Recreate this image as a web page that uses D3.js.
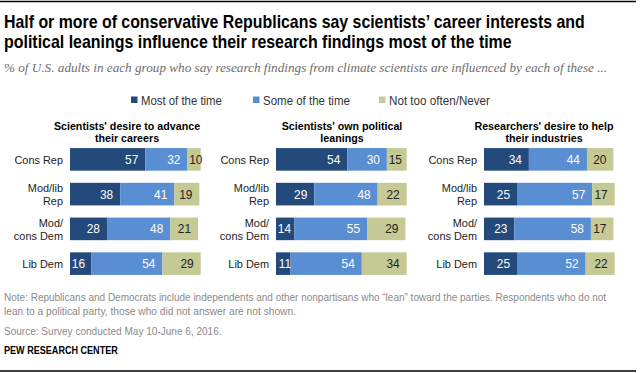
<!DOCTYPE html>
<html>
<head>
<meta charset="utf-8">
<script src="https://cdn.jsdelivr.net/npm/d3@7"></script>
<style>
  body { margin: 0; background: #fff; }
  svg { display: block; }
  text { font-family: "Liberation Sans", Arial, sans-serif; }
</style>
</head>
<body>
<svg id="chart"></svg>
<script>
// chart data
const groupLines = [["Cons Rep"], ["Mod/lib", "Rep"], ["Mod/", "cons Dem"], ["Lib Dem"]];
const groups = ["Cons Rep", "Mod/lib Rep", "Mod/cons Dem", "Lib Dem"];
const panelTitles = [
  ["Scientists' desire to advance", "their careers"],
  ["Scientists' own political", "leanings"],
  ["Researchers' desire to help", "their industries"]
];
const seriesNames = ["Most of the time", "Some of the time", "Not too often/Never"];
const mostOfTime = [[57, 38, 28, 16], [54, 29, 14, 11], [34, 25, 23, 25]];
const someOfTime = [[32, 41, 48, 54], [30, 48, 55, 54], [44, 57, 58, 52]];
const notOften = [[10, 19, 21, 29], [15, 22, 29, 34], [20, 17, 17, 22]];

const colors = ["#234a7b", "#5a8ed3", "#c5c993"];
const textColors = ["#fff", "#fff", "#222"];

const W = 640, H = 373;
const svg = d3.select("#chart").attr("width", W).attr("height", H);

// no condensed font installed: squeeze text horizontally around its anchor
function squeezeText(el, k) {
  const t = d3.select(el);
  const tx = +t.attr("x") || 0, ty = +t.attr("y") || 0;
  t.attr("x", 0).attr("y", 0)
    .attr("transform", `translate(${tx},${ty}) scale(${k},1)`);
}
function squeeze(sel, k) {
  sel.each(function() { squeezeText(this, k); });
}
function fitTo(sel, widths) {
  sel.each(function(d, i) { squeezeText(this, widths[i] / this.getComputedTextLength()); });
}

// top and bottom rules
svg.append("line").attr("x1", 0).attr("x2", 636).attr("y1", 1.5).attr("y2", 1.5)
  .attr("stroke", "#000").attr("stroke-width", 1.5);
svg.append("line").attr("x1", 0).attr("x2", 636).attr("y1", 371).attr("y2", 371)
  .attr("stroke", "#000").attr("stroke-width", 1.5);

// title
const title = ["Half or more of conservative Republicans say scientists\u2019 career interests and",
  "political leanings influence their research findings most of the time"];
svg.selectAll(".title").data(title).enter().append("text")
  .attr("x", 4).attr("y", (d, i) => 28 + i * 20)
  .attr("font-size", 17.5).attr("font-weight", "bold").attr("fill", "#000")
  .text(d => d)
  .call(fitTo, [581, 508]);

svg.append("text").attr("x", 4).attr("y", 72)
  .style("font-family", "'Liberation Serif', Georgia, serif")
  .attr("font-style", "italic").attr("font-size", 13).attr("fill", "#6e6e6e")
  .text("% of U.S. adults in each group who say research findings from climate scientists are influenced by each of these ...")
  .call(fitTo, [604]);

// legend
const legendX = [131, 253, 379];
const legend = svg.selectAll(".legend").data(seriesNames).enter().append("g")
  .attr("transform", (d, i) => `translate(${legendX[i]},100)`);
legend.append("rect").attr("x", 0).attr("y", -3.5).attr("width", 6.5).attr("height", 6.5)
  .attr("fill", (d, i) => colors[i]);
legend.append("text").attr("x", 10).attr("y", 4.5)
  .attr("font-size", 12.5).attr("fill", "#333").text(d => d)
  .each(function(d, i) { squeezeText(this, [81, 87, 101][i] / this.getComputedTextLength()); });

// scales
const y = d3.scaleBand().domain(groups).range([142, 281])
  .paddingInner(0.35).paddingOuter(0.175);
const x = d3.scaleLinear().domain([0, 100]).range([0, 132]);

const panelX = [70, 276, 484];
const titleOffset = [57, 66, 60];

panelTitles.forEach((pt, p) => {
  const g = svg.append("g").attr("transform", `translate(${panelX[p]},0)`);

  g.selectAll(".ptitle").data(pt).enter().append("text")
    .attr("x", titleOffset[p]).attr("y", (d, i) => 129.5 + i * 12.5)
    .attr("text-anchor", "middle").attr("font-size", 11.5).attr("font-weight", "bold")
    .attr("fill", "#000").text(d => d)
    .call(squeeze, 0.93);

  // row labels
  groups.forEach((grp, gi) => {
    const lines = groupLines[gi];
    const cy = y(grp) + y.bandwidth() / 2;
    lines.forEach((ln, li) => {
      g.append("text").attr("x", -7)
        .attr("y", cy + 4.2 + (li - (lines.length - 1) / 2) * 13)
        .attr("text-anchor", "end").attr("font-size", 11.5).attr("fill", "#222")
        .text(ln)
        .call(squeeze, 0.95);
    });
  });

  const rows = groups.map((grp, gi) => ({ group: grp, v: [mostOfTime[p][gi], someOfTime[p][gi], notOften[p][gi]] }));
  const segs = [];
  rows.forEach(r => {
    let acc = 0;
    r.v.forEach((v, si) => {
      segs.push({ group: r.group, s: si, v: v, start: acc, end: acc + v });
      acc += v;
    });
  });

  g.selectAll(".seg").data(segs).enter().append("rect")
    .attr("x", d => x(d.start)).attr("y", d => y(d.group))
    .attr("width", d => x(d.end) - x(d.start)).attr("height", y.bandwidth())
    .attr("fill", d => colors[d.s]);

  g.selectAll(".val").data(segs).enter().append("text")
    .attr("x", d => Math.max(x(d.start) + 15, x(d.end) - 7))
    .attr("y", d => y(d.group) + y.bandwidth() / 2 + 4.5)
    .attr("text-anchor", "end").attr("font-size", 12.5)
    .attr("fill", d => textColors[d.s]).text(d => d.v)
    .call(squeeze, 0.95);
});

// footnotes
const notes = ["Note: Republicans and Democrats include independents and other nonpartisans who \u201clean\u201d toward the parties. Respondents who do not",
  "lean to a political party, those who did not answer are not shown."];
svg.selectAll(".note").data(notes).enter().append("text")
  .attr("x", 4).attr("y", (d, i) => 301 + i * 13.5)
  .attr("font-size", 11).attr("fill", "#8a8a8a").text(d => d)
  .call(fitTo, [603, 292]);
svg.append("text").attr("x", 4).attr("y", 335)
  .attr("font-size", 11).attr("fill", "#8a8a8a").text("Source: Survey conducted May 10-June 6, 2016.")
  .call(fitTo, [218]);
svg.append("text").attr("x", 4).attr("y", 354)
  .attr("font-size", 10.5).attr("font-weight", "bold").attr("fill", "#000").text("PEW RESEARCH CENTER")
  .call(fitTo, [114]);
</script>
</body>
</html>
